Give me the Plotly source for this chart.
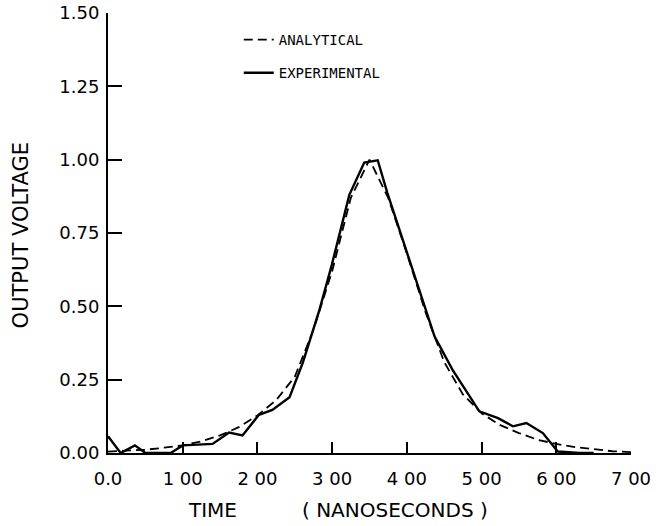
import plotly.graph_objects as go

# Experimental (solid) curve
exp_t = [0, 17, 36, 50, 84, 100, 140, 162, 180, 202, 220, 243, 261, 270, 283, 299,
         323, 343, 361, 374, 399, 421, 437, 461, 497, 522, 542, 560, 582, 602, 631, 650]
exp_v = [0.057, 0.0, 0.026, 0.0, 0.0, 0.026, 0.031, 0.070, 0.060, 0.130, 0.147, 0.190,
         0.310, 0.386, 0.488, 0.636, 0.880, 0.990, 0.998, 0.886, 0.693, 0.523, 0.398,
         0.284, 0.142, 0.119, 0.091, 0.102, 0.068, 0.005, 0.0, 0.0]

# Analytical (dashed) curve
ana_t = [0, 25, 50, 75, 100, 125, 150, 175, 200, 225, 250, 275, 300, 325, 350,
         375, 400, 425, 450, 475, 500, 525, 550, 575, 600, 625, 650, 675, 700]
ana_v = [0.005, 0.008, 0.011, 0.018, 0.026, 0.040, 0.060, 0.088, 0.128, 0.180, 0.26,
         0.42, 0.62, 0.87, 1.0, 0.87, 0.68, 0.48, 0.31, 0.20, 0.135, 0.095, 0.068,
         0.045, 0.031, 0.02, 0.012, 0.006, 0.003]

x_tickvals = [0, 100, 200, 300, 400, 500, 600, 700]
x_ticktext = ["0.0", "1 00", "2 00", "3 00", "4 00", "5 00", "6 00", "7 00"]
y_tickvals = [0, 0.25, 0.5, 0.75, 1.0, 1.25, 1.5]
y_ticktext = ["0.00", "0.25", "0.50", "0.75", "1.00", "1.25", "1.50"]

fig = go.Figure()
fig.add_trace(go.Scatter(x=ana_t, y=ana_v, mode="lines", name="ANALYTICAL",
                         legendgroup="a",
                         line=dict(color="black", width=1.8, dash="9px,5px")))
fig.add_trace(go.Scatter(x=exp_t, y=exp_v, mode="lines", name="EXPERIMENTAL",
                         legendgroup="b",
                         line=dict(color="black", width=2.4)))

font_main = "DejaVu Sans"

fig.update_layout(
    width=663, height=526,
    margin=dict(l=108, r=32, t=13, b=73, autoexpand=False),
    paper_bgcolor="white", plot_bgcolor="white",
    showlegend=True,
    legend=dict(x=0.25, y=0.975, xanchor="left", yanchor="top",
                bgcolor="rgba(0,0,0,0)", traceorder="grouped", tracegroupgap=12,
                font=dict(family="DejaVu Sans Mono", size=14, color="black"),
                itemwidth=30),
    xaxis=dict(range=[0, 700], tickvals=x_tickvals, ticktext=x_ticktext,
               automargin=False, ticklabeloverflow="allow",
               showgrid=False, zeroline=False, showline=True, linecolor="black",
               linewidth=2, ticks="inside", ticklen=11, tickwidth=2, tickcolor="black",
               tickfont=dict(family=font_main, size=18, color="black"),
               ticklabelstandoff=8),
    yaxis=dict(range=[0, 1.5], tickvals=y_tickvals, ticktext=y_ticktext,
               automargin=False, ticklabeloverflow="allow",
               showgrid=False, zeroline=False, showline=True, linecolor="black",
               linewidth=2, ticks="inside", ticklen=14, tickwidth=2, tickcolor="black",
               tickfont=dict(family=font_main, size=18, color="black"),
               ticklabelstandoff=3),
    annotations=[
        dict(text="OUTPUT VOLTAGE", xref="paper", yref="paper", x=-0.166, y=0.495,
             textangle=-90, showarrow=False, xanchor="center", yanchor="middle",
             font=dict(family=font_main, size=21, color="black")),
        dict(text="TIME", xref="paper", yref="paper", x=0.199, y=-0.13,
             showarrow=False, xanchor="center", yanchor="middle",
             font=dict(family=font_main, size=20, color="black")),
        dict(text="( NANOSECONDS )", xref="paper", yref="paper", x=0.549, y=-0.13,
             showarrow=False, xanchor="center", yanchor="middle",
             font=dict(family=font_main, size=20, color="black")),
    ],
)

fig.write_html("out.html", config={"displayModeBar": False},
               post_script="document.body.style.margin='0';")
